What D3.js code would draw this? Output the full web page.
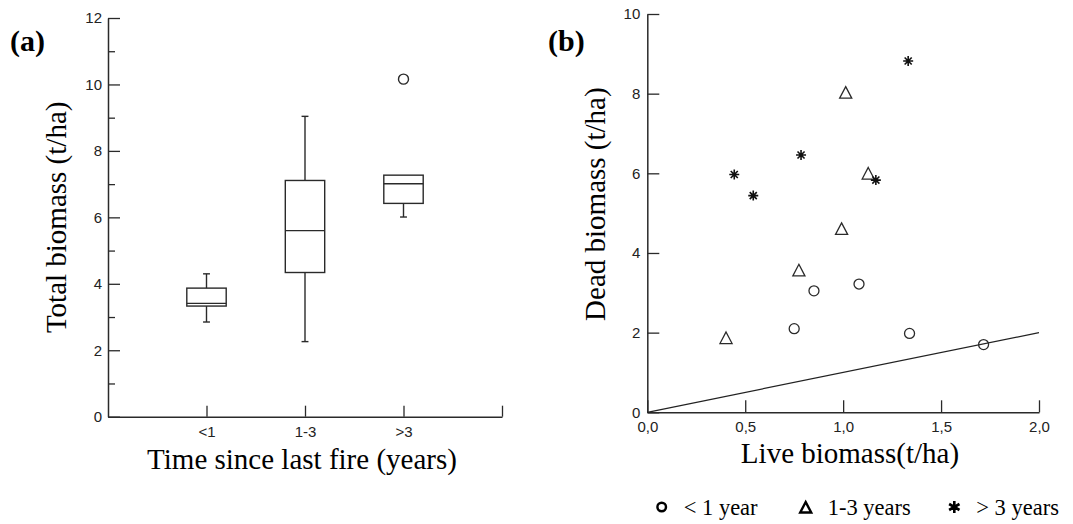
<!DOCTYPE html>
<html>
<head>
<meta charset="utf-8">
<script src="https://cdn.jsdelivr.net/npm/d3@7"></script>
<style>
  html, body { margin: 0; padding: 0; background: #fff; }
  svg { display: block; }
  .tick text { font-family: "Liberation Sans", Arial, sans-serif; font-size: 15px; fill: #222; }
  .title { font-family: "Liberation Serif", "Times New Roman", serif; font-size: 29px; fill: #000; }
  .panel { font-family: "Liberation Serif", "Times New Roman", serif; font-size: 30px; font-weight: bold; fill: #000; }
  .legend text { font-family: "Liberation Serif", "Times New Roman", serif; font-size: 22.5px; fill: #000; }
</style>
</head>
<body>
<svg id="chart" width="1073" height="524"></svg>
<script>
// ---- Panel (a): total biomass by time since last fire (box plots) ----
const categories = ["<1", "1-3", ">3"];
const whiskerLow  = [2.85, 2.26, 6.01];
const q1          = [3.33, 4.34, 6.42];
const median      = [3.41, 5.60, 7.01];
const q3          = [3.87, 7.11, 7.27];
const whiskerHigh = [4.30, 9.04, 7.27];
const outlierCategory = [">3"];
const outlierValue    = [10.16];
const yTicksMajorA = [0, 2, 4, 6, 8, 10, 12];
const yTicksMinorA = [1, 3, 5, 7, 9, 11];

// ---- Panel (b): dead vs live biomass ----
const liveLt1  = [0.75, 0.851, 1.081, 1.339, 1.717];
const deadLt1  = [2.10, 3.05, 3.22, 1.98, 1.70];
const live1to3 = [0.402, 0.774, 1.013, 0.992, 1.128];
const dead1to3 = [1.85, 3.55, 8.01, 4.59, 5.98];
const liveGt3  = [0.444, 0.541, 0.785, 1.167, 1.332];
const deadGt3  = [5.97, 5.44, 6.46, 5.83, 8.82];
const refLine  = [0, 2];            // 1:1 line, dead = live
const xTicksB  = [0, 0.5, 1.0, 1.5, 2.0];
const yTicksB  = [0, 2, 4, 6, 8, 10];
const legendLabels = ["< 1 year", "1-3 years", "> 3 years"];

const svg = d3.select("#chart");
const ink = "#2a2a2a";

// ================= Panel (a) =================
const xA = d3.scaleLinear().domain([0, 4]).range([108, 502]);
const yA = d3.scaleLinear().domain([0, 12]).range([416.7, 18]);
const catPos = d => categories.indexOf(d) + 1;

const gA = svg.append("g");

gA.append("g")
  .attr("transform", `translate(${xA(0)},0)`)
  .call(d3.axisLeft(yA).tickValues(yTicksMinorA).tickSizeInner(-7).tickSizeOuter(0).tickFormat(""))
  .call(g => g.select(".domain").remove())
  .call(g => g.selectAll("line").attr("stroke", ink).attr("stroke-width", 1.3));

gA.append("g")
  .attr("transform", `translate(${xA(0)},0)`)
  .call(d3.axisLeft(yA).tickValues(yTicksMajorA).tickSizeInner(-12).tickSizeOuter(0).tickPadding(6).tickFormat(d3.format("d")))
  .call(g => g.select(".domain").attr("stroke", ink).attr("stroke-width", 1.5))
  .call(g => g.selectAll("line").attr("stroke", ink).attr("stroke-width", 1.3));

gA.append("g")
  .attr("transform", `translate(0,${yA(0)})`)
  .call(d3.axisBottom(xA).tickValues([1, 2, 3, 4]).tickSizeInner(-11).tickSizeOuter(0).tickPadding(10)
        .tickFormat(d => categories[d - 1] || ""))
  .call(g => g.select(".domain").attr("stroke", ink).attr("stroke-width", 1.5))
  .call(g => g.selectAll("line").attr("stroke", ink).attr("stroke-width", 1.3));

const halfBox = 0.2, halfCap = 0.035;
const boxes = gA.append("g").attr("fill", "none").attr("stroke", ink).attr("stroke-width", 1.4);
categories.forEach((c, i) => {
  const cx = i + 1;
  // whiskers
  if (whiskerHigh[i] > q3[i]) {
    boxes.append("line").attr("x1", xA(cx)).attr("x2", xA(cx)).attr("y1", yA(q3[i])).attr("y2", yA(whiskerHigh[i]));
    boxes.append("line").attr("x1", xA(cx - halfCap)).attr("x2", xA(cx + halfCap)).attr("y1", yA(whiskerHigh[i])).attr("y2", yA(whiskerHigh[i]));
  }
  if (whiskerLow[i] < q1[i]) {
    boxes.append("line").attr("x1", xA(cx)).attr("x2", xA(cx)).attr("y1", yA(q1[i])).attr("y2", yA(whiskerLow[i]));
    boxes.append("line").attr("x1", xA(cx - halfCap)).attr("x2", xA(cx + halfCap)).attr("y1", yA(whiskerLow[i])).attr("y2", yA(whiskerLow[i]));
  }
  // box
  boxes.append("rect")
    .attr("x", xA(cx - halfBox)).attr("width", xA(cx + halfBox) - xA(cx - halfBox))
    .attr("y", yA(q3[i])).attr("height", yA(q1[i]) - yA(q3[i]));
  // median
  boxes.append("line").attr("x1", xA(cx - halfBox)).attr("x2", xA(cx + halfBox)).attr("y1", yA(median[i])).attr("y2", yA(median[i]));
});
outlierValue.forEach((v, i) => {
  boxes.append("circle").attr("cx", xA(catPos(outlierCategory[i]))).attr("cy", yA(v)).attr("r", 5);
});

gA.append("text").attr("class", "panel").attr("x", 10).attr("y", 51).text("(a)");
gA.append("text").attr("class", "title").attr("text-anchor", "middle")
  .attr("transform", `translate(66,${(yA(0) + yA(12)) / 2}) rotate(-90)`).text("Total biomass (t/ha)");
gA.append("text").attr("class", "title").attr("text-anchor", "middle")
  .attr("x", 302).attr("y", 469).text("Time since last fire (years)");

// ================= Panel (b) =================
const xB = d3.scaleLinear().domain([0, 2]).range([647.3, 1039]);
const yB = d3.scaleLinear().domain([0, 10]).range([412.3, 14]);
const gB = svg.append("g");

gB.append("g")
  .attr("transform", `translate(${xB(0)},0)`)
  .call(d3.axisLeft(yB).tickValues(yTicksB).tickSizeInner(-12).tickSizeOuter(0).tickPadding(7).tickFormat(d3.format("d")))
  .call(g => g.select(".domain").attr("stroke", ink).attr("stroke-width", 1.5))
  .call(g => g.selectAll("line").attr("stroke", ink).attr("stroke-width", 1.3));

gB.append("g")
  .attr("transform", `translate(0,${yB(0)})`)
  .call(d3.axisBottom(xB).tickValues(xTicksB).tickSizeInner(-12).tickSizeOuter(0).tickPadding(9)
        .tickFormat(d => d3.format(".1f")(d).replace(".", ",")))
  .call(g => g.select(".domain").attr("stroke", ink).attr("stroke-width", 1.5))
  .call(g => g.selectAll("line").attr("stroke", ink).attr("stroke-width", 1.3));

// 1:1 reference line
gB.append("line")
  .attr("x1", xB(refLine[0])).attr("y1", yB(refLine[0]))
  .attr("x2", xB(refLine[1])).attr("y2", yB(refLine[1]))
  .attr("stroke", "#222").attr("stroke-width", 1.2);

const triPath = s => `M0,${-s * 0.6}L${s * 0.55},${s * 0.45}L${-s * 0.55},${s * 0.45}Z`;
const starPath = s => {
  const r = s / 2, d = r * Math.SQRT1_2;
  return `M0,${-r}L0,${r}M${-r},0L${r},0M${-d},${-d}L${d},${d}M${-d},${d}L${d},${-d}`;
};

const pts = gB.append("g").attr("fill", "none").attr("stroke", ink).attr("stroke-width", 1.3);
liveLt1.forEach((x, i) => {
  pts.append("circle").attr("cx", xB(x)).attr("cy", yB(deadLt1[i])).attr("r", 5);
});
live1to3.forEach((x, i) => {
  pts.append("path").attr("d", triPath(11)).attr("transform", `translate(${xB(x)},${yB(dead1to3[i])})`);
});
liveGt3.forEach((x, i) => {
  pts.append("path").attr("d", starPath(10)).attr("stroke", "#111").attr("stroke-width", 1.6)
    .attr("transform", `translate(${xB(x)},${yB(deadGt3[i])})`);
});

gB.append("text").attr("class", "panel").attr("x", 548).attr("y", 51).text("(b)");
gB.append("text").attr("class", "title").attr("text-anchor", "middle")
  .attr("transform", `translate(605,${(yB(0) + yB(10)) / 2 - 9}) rotate(-90)`).text("Dead biomass (t/ha)");
gB.append("text").attr("class", "title").attr("text-anchor", "middle")
  .attr("x", 850).attr("y", 463).text("Live biomass(t/ha)");

// legend
const legend = gB.append("g").attr("class", "legend");
const legX = [661.7, 805.7, 954.3];
const legY = 507;
legend.append("circle").attr("cx", legX[0]).attr("cy", legY).attr("r", 4.3)
  .attr("fill", "none").attr("stroke", "#000").attr("stroke-width", 2.4);
legend.append("path").attr("d", triPath(10)).attr("transform", `translate(${legX[1]},${legY + 1})`)
  .attr("fill", "none").attr("stroke", "#000").attr("stroke-width", 2.4).attr("stroke-linejoin", "miter");
legend.append("path").attr("d", (() => {
  const r = 6, a = r * Math.cos(Math.PI / 6), b = r * Math.sin(Math.PI / 6);
  return `M0,${-r}L0,${r}M${-a},${-b}L${a},${b}M${-a},${b}L${a},${-b}`;
})()).attr("transform", `translate(${legX[2]},${legY})`)
  .attr("fill", "none").attr("stroke", "#000").attr("stroke-width", 2.6);
legendLabels.forEach((t, i) => {
  legend.append("text").attr("x", legX[i] + 22).attr("y", legY + 8).text(t);
});
</script>
</body>
</html>
